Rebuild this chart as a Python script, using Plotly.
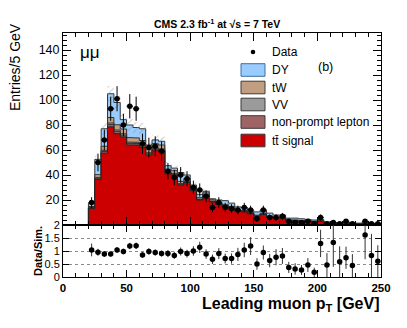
import numpy as np
import plotly.graph_objects as go

# ---------------- data ----------------
EDGES = np.arange(20, 251, 5)            # leading muon pT bin edges [GeV]
CENTERS = (EDGES[:-1] + EDGES[1:]) / 2

DATA = [18, 50, 68, 93, 101, 80, 95, 93, 65, 62,
        63, 59, 43, 38, 40, 37, 30, 28, 23, 14,
        18, 14, 13, 12, 14, 12, 5, 12, 6, 6,
        7, 3, 2, 2, 3, 1, 6, 1, 2, 1,
        3, 1, 0, 3, 1, 1]

TT_SIGNAL = [13.3, 36.5, 57.5, 78.5, 73.0, 70.5, 64.0, 64.0, 62.0, 56.0,
             60.0, 59.0, 41.0, 40.0, 32.0, 34.0, 27.5, 20.0, 23.5, 18.5,
             16.5, 15.0, 13.5, 11.0, 10.5, 9.0, 7.0, 8.5, 6.5, 5.5,
             5.5, 3.5, 3.5, 3.0, 3.0, 2.5, 3.0, 1.5, 1.2, 1.2,
             1.5, 1.2, 0.8, 1.0, 0.7, 0.8]
NONPROMPT = [0.4, 0.9, 1.3, 1.8, 1.7, 1.4, 1.3, 1.2, 1.2, 1.0,
             1.0, 1.0, 0.7, 0.7, 0.6, 0.6, 0.5, 0.4, 0.4, 0.3,
             0.3, 0.3, 0.3, 0.2, 0.2, 0.2, 0.2, 0.2, 0.1, 0.1,
             0.1, 0.1, 0.1, 0.1, 0.1, 0.1, 0.1, 0.05, 0.05, 0.05,
             0.05, 0.05, 0.05, 0.05, 0.05, 0.05]
VV = [0.3, 0.7, 1.0, 1.3, 1.3, 1.1, 1.0, 1.0, 1.0, 0.8,
      0.9, 0.9, 0.6, 0.6, 0.5, 0.5, 0.4, 0.3, 0.4, 0.3,
      0.3, 0.3, 0.3, 0.2, 0.2, 0.2, 0.2, 0.2, 0.2, 0.1,
      0.1, 0.1, 0.1, 0.1, 0.1, 0.1, 0.1, 0.05, 0.05, 0.05,
      0.05, 0.05, 0.05, 0.05, 0.05, 0.05]
TW = [0.8, 2.2, 3.2, 4.4, 4.2, 3.8, 3.6, 3.5, 3.4, 3.0,
      3.2, 3.1, 2.3, 2.2, 1.8, 1.9, 1.6, 1.2, 1.4, 1.1,
      1.0, 0.9, 0.8, 0.7, 0.7, 0.6, 0.5, 0.6, 0.4, 0.4,
      0.4, 0.3, 0.3, 0.3, 0.3, 0.3, 0.3, 0.15, 0.1, 0.1,
      0.1, 0.1, 0.1, 0.1, 0.1, 0.1]
DY = [2.7, 12.2, 14.0, 19.0, 17.8, 7.5, 10.1, 8.3, 9.4, 3.2,
      3.0, 3.0, 2.9, 2.0, 7.1, 3.0, 2.0, 2.6, 1.3, 0.8,
      1.9, 3.0, 2.6, 2.4, 2.4, 1.5, 2.6, 2.5, 2.3, 1.9,
      1.9, 1.5, 1.5, 1.5, 1.0, 1.0, 1.0, 0.7, 0.6, 0.5,
      0.8, 0.6, 0.5, 0.6, 0.4, 0.5]

RATIO = [1.04, 0.95, 0.88, 0.88, 1.04, 0.98, 1.19, 1.20, 0.85, 0.98,
         0.94, 0.90, 0.90, 0.83, 0.98, 0.90, 1.00, 1.14, 0.88, 0.68,
         0.90, 0.71, 0.71, 0.87, 1.04, 1.19, 0.50, 0.94, 0.63, 0.76,
         0.81, 0.37, 0.31, 0.27, 0.46, 0.18, 1.29, 0.46, 1.33, 0.59,
         0.74, 0.44, None, 1.62, 0.83, 0.61]

SYST_FRAC = 0.06   # relative systematic uncertainty of the simulation (hatched)

X_TICKS = [0, 50, 100, 150, 200, 250]
Y_TICKS = [0, 20, 40, 60, 80, 100, 120, 140]
Y_TICK_LABELS = ["", "20", "40", "60", "80", "100", "120", "140"]
R_TICKS = [0, 0.5, 1, 1.5, 2]
R_TICK_LABELS = ["0", "0.5", "1", "1.5", "2"]

COMPONENTS = [  # bottom -> top of the stack
    ("tt\u0304 signal", TT_SIGNAL, "#cc0000", "#222222"),
    ("non-prompt lepton", NONPROMPT, "#a06464", "#333333"),
    ("VV", VV, "#9b9b9b", "#333333"),
    ("tW", TW, "#c29e80", "#333333"),
    ("DY", DY, "#99ccff", "#333333"),
]

FONT = "Liberation Sans, Arial, Helvetica, sans-serif"

# ---------------- geometry (pixels of the 407x328 canvas) ----------------
W, H = 407, 328
L, R, T, B = 63, 381, 33, 277
SPLIT = 225


def px(x):
    return (x - L) / (R - L)


def py(y):
    return (B - y) / (B - T)


fig = go.Figure()

# ---------------- stacked histogram ----------------
cum = np.cumsum(np.array([c[1] for c in COMPONENTS]), axis=0)
xs_fill = [EDGES[0]] + EDGES.tolist() + [EDGES[-1]]
for i in reversed(range(len(COMPONENTS))):
    name, _, color, lcol = COMPONENTS[i]
    level = cum[i].tolist()
    ys = [0] + level + [level[-1], 0]
    fig.add_trace(go.Scatter(
        x=xs_fill, y=ys, mode="lines", line=dict(shape="hv", color=lcol, width=1),
        fill="toself", fillcolor=color, showlegend=False, hoverinfo="skip",
        xaxis="x", yaxis="y"))

# ---------------- systematic band (hatched) ----------------
total = cum[-1]
lo = (total * (1 - SYST_FRAC)).tolist()
hi = (total * (1 + SYST_FRAC)).tolist()
fig.add_trace(go.Scatter(
    x=EDGES.tolist(), y=lo + [lo[-1]], mode="lines",
    line=dict(shape="hv", width=0, color="rgba(0,0,0,0)"),
    showlegend=False, hoverinfo="skip", xaxis="x", yaxis="y"))
fig.add_trace(go.Scatter(
    x=EDGES.tolist(), y=hi + [hi[-1]], mode="lines",
    line=dict(shape="hv", width=0, color="rgba(0,0,0,0)"),
    fill="tonexty", fillcolor="rgba(0,0,0,0)",
    fillpattern=dict(shape="/", fgcolor="#8a8a8a", bgcolor="rgba(0,0,0,0)",
                     size=5, solidity=0.18),
    showlegend=False, hoverinfo="skip", xaxis="x", yaxis="y"))

# ---------------- data points ----------------
data_y = [d if d > 0 else None for d in DATA]
data_err = [np.sqrt(d) if d > 0 else None for d in DATA]
fig.add_trace(go.Scatter(
    x=CENTERS, y=data_y, mode="markers",
    marker=dict(color="black", size=5.5, symbol="circle"),
    error_y=dict(type="data", array=data_err, visible=True, color="black",
                 thickness=1, width=0),
    error_x=dict(type="constant", value=2.5, visible=True, color="black",
                 thickness=1, width=0),
    showlegend=False, hoverinfo="skip", xaxis="x", yaxis="y"))

# ---------------- ratio panel ----------------
r_err = [(r / np.sqrt(d)) if (r is not None and d > 0) else None
         for r, d in zip(RATIO, DATA)]
fig.add_trace(go.Scatter(
    x=CENTERS, y=RATIO, mode="markers",
    marker=dict(color="black", size=5.5),
    error_y=dict(type="data", array=r_err, visible=True, color="#333333",
                 thickness=1, width=0),
    showlegend=False, hoverinfo="skip", xaxis="x2", yaxis="y2"))

split_frac = py(SPLIT)
axis_common = dict(showline=True, linecolor="black", linewidth=1,
                   ticks="inside", tickcolor="black", mirror="ticks",
                   zeroline=False, showgrid=False, automargin=False)

fig.update_layout(
    width=W, height=H,
    margin=dict(l=L, r=W - R, t=T, b=H - B, pad=0, autoexpand=False),
    paper_bgcolor="white", plot_bgcolor="white",
    font=dict(family=FONT, color="black"),
    showlegend=False,
    xaxis=dict(domain=[0, 1], anchor="y", range=[0, 250],
               tickvals=X_TICKS, showticklabels=False, ticklen=8,
               minor=dict(ticks="inside", ticklen=4, dtick=10, tick0=0,
                          tickcolor="black"),
               **axis_common),
    yaxis=dict(domain=[split_frac, 1], anchor="x", range=[0, 153.6],
               tickvals=Y_TICKS, ticktext=Y_TICK_LABELS, ticklen=8,
               tickfont=dict(size=12.5),
               minor=dict(ticks="inside", ticklen=4, dtick=4, tick0=0,
                          tickcolor="black"),
               **axis_common),
    xaxis2=dict(domain=[0, 1], anchor="y2", range=[0, 250], matches="x",
                tickvals=X_TICKS, ticklen=7,
                tickfont=dict(size=11.5, family=FONT, weight="bold"),
                minor=dict(ticks="inside", ticklen=4, dtick=10, tick0=0,
                           tickcolor="black"),
                **axis_common),
    yaxis2=dict(domain=[0, split_frac], anchor="x2", range=[0, 2],
                tickvals=R_TICKS, ticktext=R_TICK_LABELS, ticklen=6,
                tickfont=dict(size=11), automargin=False,
                showline=True, linecolor="black", linewidth=1,
                ticks="inside", tickcolor="black", mirror="ticks",
                zeroline=False, showgrid=True, gridcolor="#8a8a8a",
                griddash="dot", gridwidth=1),
)

# ---------------- texts ----------------
ann = []
ann.append(dict(x=px(217), y=py(23), xref="paper", yref="paper",
                text="<b>CMS 2.3 fb<sup>-1</sup> at \u221as = 7 TeV</b>",
                showarrow=False, font=dict(size=10.5), xanchor="center",
                yanchor="middle"))
ann.append(dict(x=px(78), y=py(52), xref="paper", yref="paper",
                text="\u03bc\u03bc", showarrow=False, font=dict(size=17),
                xanchor="left", yanchor="middle"))
ann.append(dict(x=px(325), y=py(67), xref="paper", yref="paper",
                text="(b)", showarrow=False, font=dict(size=12.5),
                xanchor="center", yanchor="middle"))
ann.append(dict(x=px(15), y=py(67), xref="paper", yref="paper",
                text="Entries/5 GeV", showarrow=False, textangle=-90,
                font=dict(size=14), xanchor="center", yanchor="middle"))
ann.append(dict(x=px(38), y=py(251), xref="paper", yref="paper",
                text="<b>Data/Sim.</b>", showarrow=False, textangle=-90,
                font=dict(size=11), xanchor="center", yanchor="middle"))
ann.append(dict(x=px(382), y=py(304), xref="paper", yref="paper",
                text="<b>Leading muon p<sub>T</sub> [GeV]</b>",
                showarrow=False, font=dict(size=16), xanchor="right",
                yanchor="middle"))

# ---------------- legend (drawn by hand, ROOT-style) ----------------
shapes = []
leg_order = [COMPONENTS[4], COMPONENTS[3], COMPONENTS[2], COMPONENTS[1],
             COMPONENTS[0]]
leg_y = [70, 87.5, 104.5, 122, 140.5]
for (name, _, color, _lc), yc in zip(leg_order, leg_y):
    border = "#3f6f9f" if name == "DY" else "#3a3a3a"
    shapes.append(dict(type="rect", xref="paper", yref="paper",
                       x0=px(241), x1=px(265), y0=py(yc + 6.3), y1=py(yc - 6.3),
                       fillcolor=color, line=dict(color=border, width=1)))
    ann.append(dict(x=px(270), y=py(yc), xref="paper", yref="paper",
                    text=name, showarrow=False, font=dict(size=12),
                    xanchor="left", yanchor="middle"))
shapes.append(dict(type="circle", xref="paper", yref="paper",
                   x0=px(250.7), x1=px(255.3), y0=py(54.3), y1=py(49.7),
                   fillcolor="black", line=dict(color="black", width=0)))
ann.append(dict(x=px(270), y=py(52), xref="paper", yref="paper",
                text="Data", showarrow=False, font=dict(size=12),
                xanchor="left", yanchor="middle"))

fig.update_layout(annotations=ann, shapes=shapes)

fig.write_html("out.html",
               config={"displayModeBar": False},
               post_script="document.body.style.margin='0';"
                           "document.body.style.padding='0';")
